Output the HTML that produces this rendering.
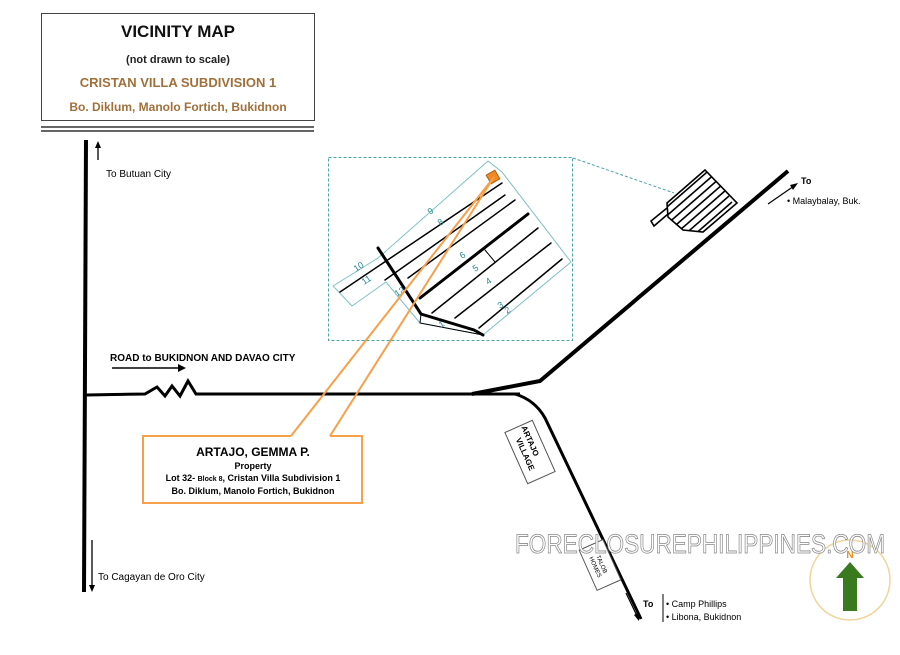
<!DOCTYPE html>
<html><head><style>
body{margin:0;background:#fff}
svg{display:block}
text{font-family:"Liberation Sans",Arial,sans-serif}
</style></head><body>
<svg width="900" height="655" viewBox="0 0 900 655" xmlns="http://www.w3.org/2000/svg">
<defs><clipPath id="ic"><path d="M667,203 L705,170 L737,203 L703,232 L683,230 L668,217 Z"/></clipPath></defs>
<rect width="900" height="655" fill="#fff"/>
<!-- title -->
<rect x="41.5" y="13.5" width="273" height="107" fill="#fff" stroke="#444"/>
<line x1="41" y1="127" x2="314" y2="127" stroke="#333" stroke-width="1.5"/>
<line x1="41" y1="131" x2="314" y2="131" stroke="#333" stroke-width="1.5"/>
<text x="178" y="37" text-anchor="middle" font-size="17" font-weight="bold" fill="#111">VICINITY MAP</text>
<text x="178" y="63" text-anchor="middle" font-size="11" font-weight="bold" fill="#222">(not drawn to scale)</text>
<text x="178" y="87" text-anchor="middle" font-size="13" font-weight="bold" fill="#a0703a">CRISTAN VILLA SUBDIVISION 1</text>
<text x="178" y="111" text-anchor="middle" font-size="12" font-weight="bold" fill="#a0703a">Bo. Diklum, Manolo Fortich, Bukidnon</text>
<!-- main vertical road -->
<line x1="86" y1="140" x2="84" y2="592" stroke="#000" stroke-width="4"/>
<line x1="98" y1="160" x2="98" y2="145" stroke="#000" stroke-width="1.3"/>
<path d="M95,148 L98,141 L101,148Z" fill="#000"/>
<text x="106" y="177" font-size="10" fill="#000">To Butuan  City</text>
<line x1="92" y1="540" x2="92" y2="588" stroke="#000" stroke-width="1.3"/>
<path d="M89,585 L92,592 L95,585Z" fill="#000"/>
<text x="98" y="580" font-size="10" fill="#000">To  Cagayan de Oro City</text>
<!-- horizontal road -->
<path d="M86,395 L145,394 L157,387 L165,396 L172,386 L180,396 L188,381 L196,394 L520,394" fill="none" stroke="#000" stroke-width="3"/>
<text x="110" y="361" font-size="10" font-weight="bold" fill="#000">ROAD to BUKIDNON AND DAVAO CITY</text>
<line x1="112" y1="368" x2="180" y2="368" stroke="#000" stroke-width="1.5"/>
<path d="M178,364 L186,368 L178,372Z" fill="#000"/>
<!-- road to Malaybalay -->
<path d="M472,394 L540,381 L788,171" fill="none" stroke="#000" stroke-width="4"/>
<line x1="768" y1="204" x2="794" y2="186" stroke="#000" stroke-width="1.2"/>
<path d="M790,185 L798,183 L793,190Z" fill="#000"/>
<text x="801" y="184" font-size="9" font-weight="bold" fill="#000">To</text>
<text x="787" y="204" font-size="9" fill="#000">•  Malaybalay, Buk.</text>
<!-- road south -->
<path d="M515,394 Q535,400 545,418 L641,619" fill="none" stroke="#000" stroke-width="3"/>
<line x1="626" y1="593" x2="637" y2="616" stroke="#000" stroke-width="1.2"/>
<path d="M634,615 L639,621 L639,612Z" fill="#000"/>
<text x="643" y="607" font-size="9" font-weight="bold" fill="#000">To</text>
<line x1="663" y1="594" x2="663" y2="622" stroke="#000"/>
<text x="666" y="607" font-size="9" fill="#000">•  Camp Phillips</text>
<text x="666" y="620" font-size="9" fill="#000">•  Libona, Bukidnon</text>
<!-- Artajo village box -->
<g transform="translate(530,452) rotate(-24)">
<rect x="-15" y="-28" width="30" height="56" fill="#fff" stroke="#555"/>
<text transform="rotate(90)" x="-10" y="-2" font-size="8" font-weight="bold" text-anchor="middle">ARTAJO</text>
<text transform="rotate(90)" x="0" y="8" font-size="8" font-weight="bold" text-anchor="middle">VILLAGE</text>
</g>
<g transform="translate(600,565) rotate(-24)">
<rect x="-13" y="-22" width="26" height="44" fill="#fff" stroke="#555"/>
<text transform="rotate(90)" x="0" y="0" font-size="6" text-anchor="middle">TALOB</text>
<text transform="rotate(90)" x="0" y="7" font-size="6" text-anchor="middle">HOMES</text>
</g>
<!-- dashed inset -->
<rect x="328.5" y="157.5" width="244" height="183" fill="none" stroke="#4aa3a8" stroke-dasharray="3,2"/>
<line x1="573" y1="158" x2="674" y2="193" stroke="#4aa3a8" stroke-dasharray="3,2"/>
<!-- lot diagram -->
<g stroke-linecap="round">
<path d="M333,286 L378,258 L488,161 L502,172 L571,262 L483,335 L420,323 L386,282 L352,306Z" fill="none" stroke="#7cc0c4"/>
<line x1="340" y1="292" x2="502" y2="183" stroke="#000" stroke-width="1.5"/>
<line x1="385" y1="280" x2="505" y2="195" stroke="#000" stroke-width="1.5"/>
<line x1="408" y1="278" x2="515" y2="200" stroke="#000" stroke-width="1.5"/>
<line x1="420" y1="298" x2="528" y2="214" stroke="#000" stroke-width="3"/>
<line x1="432" y1="313" x2="538" y2="228" stroke="#000" stroke-width="1.5"/>
<line x1="455" y1="318" x2="551" y2="243" stroke="#000" stroke-width="1.5"/>
<line x1="479" y1="328" x2="562" y2="259" stroke="#000" stroke-width="1.5"/>
<line x1="485" y1="250" x2="495" y2="262" stroke="#000"/>
<path d="M378,248 L421,314 L474,330 L483,335" fill="none" stroke="#000" stroke-width="3"/>
<path d="M421,314 L420,323 L483,335" fill="none" stroke="#000"/>
<rect x="488" y="172" width="10" height="10" fill="#f08a24" stroke="#b06010" transform="rotate(-30 493 177)"/>
</g>
<g font-size="9" fill="#2a8a90">
<text x="430" y="215" transform="rotate(-33 430 215)">9</text>
<text x="440" y="226" transform="rotate(-33 440 226)">8</text>
<text x="462" y="259" transform="rotate(-33 462 259)">6</text>
<text x="475" y="272" transform="rotate(-33 475 272)">5</text>
<text x="488" y="285" transform="rotate(-33 488 285)">4</text>
<text x="500" y="309" transform="rotate(-33 500 309)">3</text>
<text x="507" y="314" transform="rotate(-33 507 314)">2</text>
<text x="441" y="328" transform="rotate(-33 441 328)">1</text>
<text x="356" y="272" transform="rotate(-33 356 272)">10</text>
<text x="364" y="285" transform="rotate(-33 364 285)">11</text>
<text x="397" y="297" transform="rotate(-33 397 297)">12</text>
</g>
<!-- small icon -->
<g stroke="#000" stroke-width="1.6" fill="none">
<g clip-path="url(#ic)">
<line x1="660" y1="213" x2="714" y2="166"/>
<line x1="663" y1="219" x2="717" y2="172"/>
<line x1="666" y1="225" x2="720" y2="178"/>
<line x1="669" y1="231" x2="723" y2="184"/>
<line x1="672" y1="237" x2="726" y2="190"/>
<line x1="675" y1="243" x2="729" y2="196"/>
<line x1="678" y1="249" x2="732" y2="202"/>
<line x1="681" y1="255" x2="735" y2="208"/>
<line x1="684" y1="261" x2="738" y2="214"/>
</g>
<path d="M667,203 L705,170 L737,203 L703,232 L683,230 L668,217 Z"/>
<path d="M667,208 L651,221 L654,226 L668,214"/>
</g>
<!-- orange callout -->
<line x1="291" y1="436" x2="494" y2="177" stroke="#f5a04a" stroke-width="2"/>
<line x1="330" y1="436" x2="494" y2="177" stroke="#f5a04a" stroke-width="2"/>
<path d="M291,436 L143,436 L143,503 L362,503 L362,436 L330,436" fill="#fff" stroke="#f5a04a" stroke-width="2"/>
<text x="253" y="456" text-anchor="middle" font-size="12" font-weight="bold">ARTAJO, GEMMA P.</text>
<text x="253" y="469" text-anchor="middle" font-size="9" font-weight="bold">Property</text>
<text x="253" y="481" text-anchor="middle" font-size="9" font-weight="bold">Lot 32- <tspan font-size="7">Block 8</tspan>, Cristan Villa Subdivision 1</text>
<text x="253" y="494" text-anchor="middle" font-size="9" font-weight="bold">Bo. Diklum, Manolo Fortich, Bukidnon</text>
<!-- compass -->
<circle cx="850" cy="580" r="40" fill="#fff" stroke="#f0d49a" stroke-width="1.5"/>
<path d="M850,562 L836,578 L843,578 L843,611 L857,611 L857,578 L864,578Z" fill="#3a7a1e"/>
<text x="850" y="558" text-anchor="middle" font-size="10" font-weight="bold" fill="#e8901c">N</text>
<!-- watermark -->
<text x="515" y="553" font-size="27" fill="#fff" stroke="#888" stroke-width="0.8" textLength="370" lengthAdjust="spacingAndGlyphs">FORECLOSUREPHILIPPINES.COM</text>
</svg>
</body></html>
